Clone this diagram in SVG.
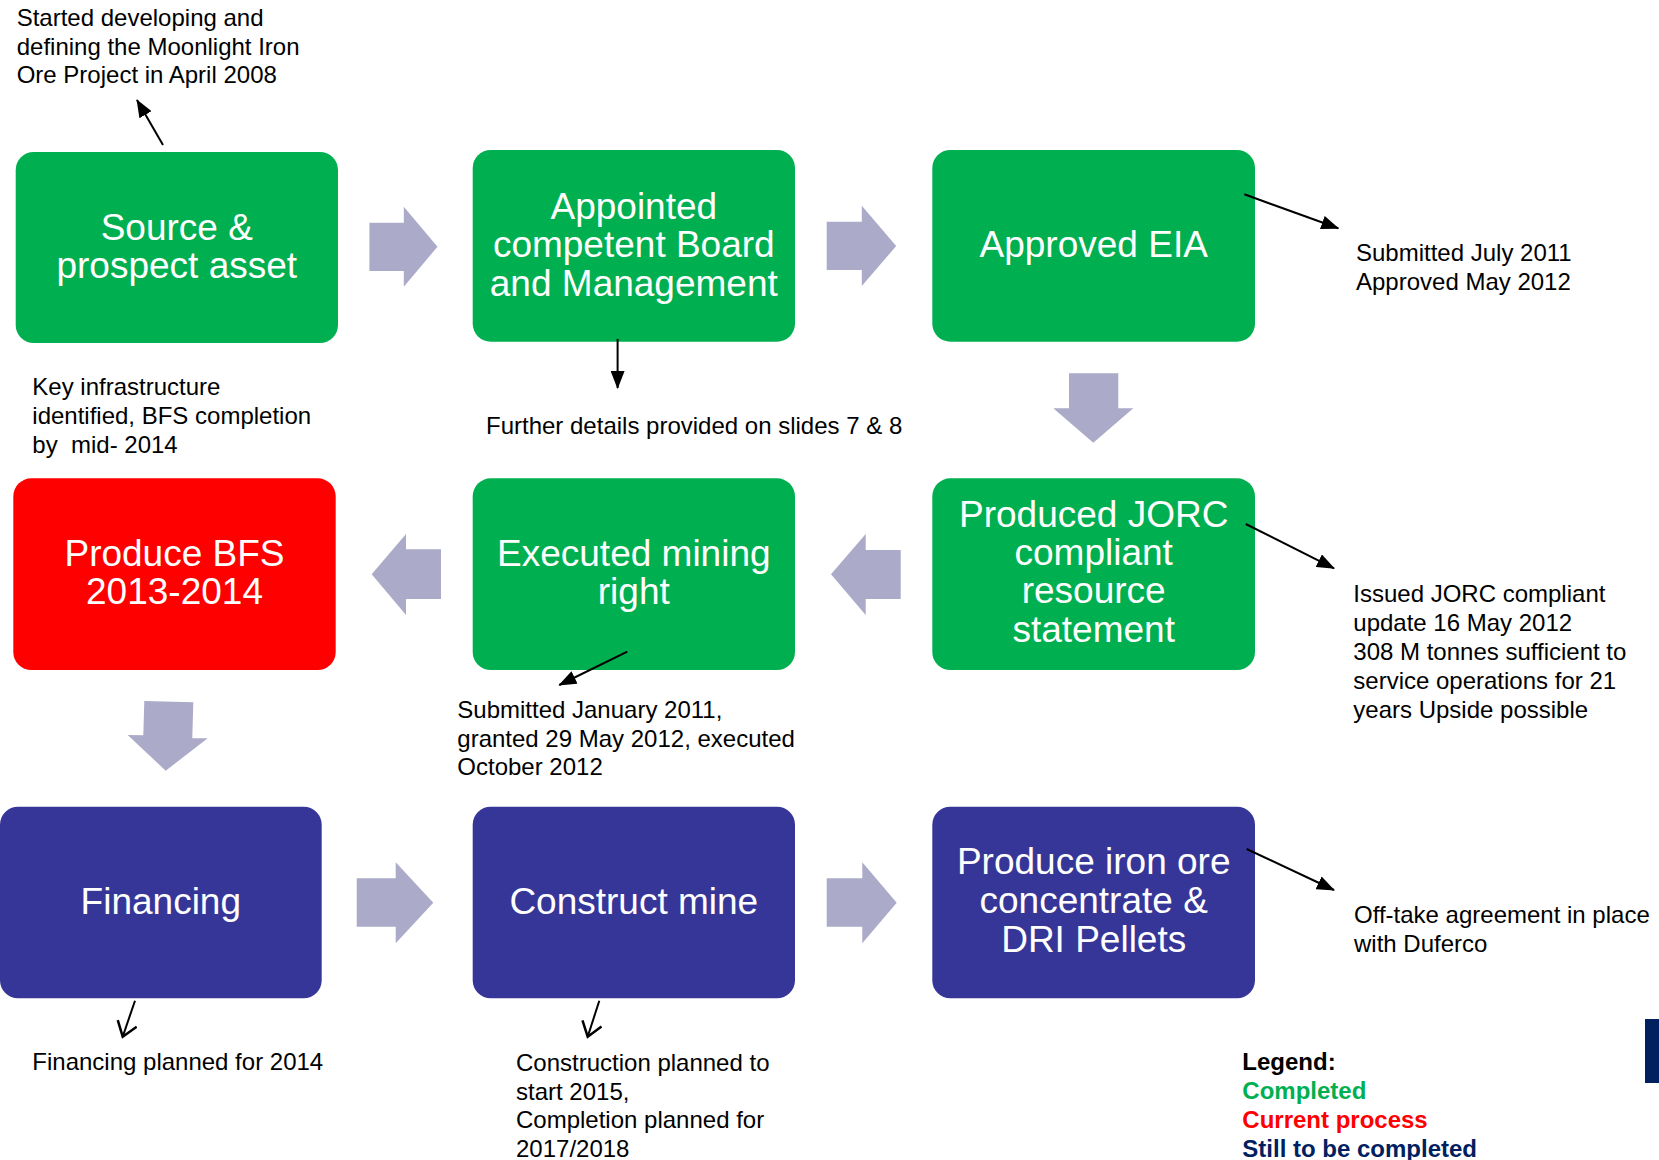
<svg xmlns="http://www.w3.org/2000/svg" width="1659" height="1160" viewBox="0 0 1659 1160">
<style>
.box{stroke:none}
.g{fill:#00B050}
.r{fill:#FF0000}
.b{fill:#363698}
.nt{font-family:"Liberation Sans",Arial,sans-serif;font-size:37px;fill:#FFFFFF;text-anchor:middle}
.an{font-family:"Liberation Sans",Arial,sans-serif;font-size:24px;fill:#000000;white-space:pre}
.lg{font-family:"Liberation Sans",Arial,sans-serif;font-size:24px;font-weight:bold}
.blk{fill:#ABABC9;stroke:none}
.ln{stroke:#000;stroke-width:2;fill:none}
</style>
<defs>
<marker id="tri" markerUnits="userSpaceOnUse" markerWidth="18" markerHeight="14" refX="17" refY="7" orient="auto">
<path d="M0,0 L18,7 L0,14 z" fill="#000"/>
</marker>
<marker id="vee" markerUnits="userSpaceOnUse" markerWidth="18" markerHeight="24" refX="15" refY="11" orient="auto">
<path d="M1,1 L15,11 L1,21" fill="none" stroke="#000" stroke-width="2.5"/>
</marker>
</defs>
<rect width="1659" height="1160" fill="#FFFFFF"/>

<g id="n1"><rect class="box g" x="15.7" y="152" width="322.3" height="191" rx="18"/>
<text class="nt" x="176.8" y="240">Source &amp;</text>
<text class="nt" x="176.8" y="278">prospect asset</text></g>

<g id="n2"><rect class="box g" x="472.7" y="150" width="322.3" height="191.7" rx="18"/>
<text class="nt" x="633.8" y="219">Appointed</text>
<text class="nt" x="633.8" y="257">competent Board</text>
<text class="nt" x="633.8" y="295.7">and Management</text></g>

<g id="n3"><rect class="box g" x="932.3" y="150" width="322.7" height="191.7" rx="18"/>
<text class="nt" x="1093.7" y="256.7">Approved EIA</text></g>

<g id="n4"><rect class="box g" x="932.3" y="478.3" width="322.7" height="191.7" rx="18"/>
<text class="nt" x="1093.7" y="526.7">Produced JORC</text>
<text class="nt" x="1093.7" y="565">compliant</text>
<text class="nt" x="1093.7" y="603.3">resource</text>
<text class="nt" x="1093.7" y="642.3">statement</text></g>

<g id="n5"><rect class="box g" x="472.7" y="478.3" width="322.3" height="191.7" rx="18"/>
<text class="nt" x="633.8" y="565.7">Executed mining</text>
<text class="nt" x="633.8" y="604">right</text></g>

<g id="n6"><rect class="box r" x="13.3" y="478.3" width="322.4" height="191.7" rx="18"/>
<text class="nt" x="174.5" y="566">Produce BFS</text>
<text class="nt" x="174.5" y="604.3">2013-2014</text></g>

<g id="n7"><rect class="box b" x="0" y="806.7" width="321.7" height="191.6" rx="18"/>
<text class="nt" x="160.8" y="914">Financing</text></g>

<g id="n8"><rect class="box b" x="472.7" y="806.7" width="322.3" height="191.6" rx="18"/>
<text class="nt" x="633.8" y="914">Construct mine</text></g>

<g id="n9"><rect class="box b" x="932.3" y="806.7" width="322.7" height="191.6" rx="18"/>
<text class="nt" x="1093.7" y="874">Produce iron ore</text>
<text class="nt" x="1093.7" y="912.7">concentrate &amp;</text>
<text class="nt" x="1093.7" y="952.3">DRI Pellets</text></g>

<g id="connectors">
<polygon class="blk" points="369.4,222.7 403.8,222.7 403.8,206.7 437.5,246.7 403.8,286.7 403.8,271 369.4,271"/>
<polygon class="blk" points="826.7,221.7 861.8,221.7 861.8,205.7 896.2,246 861.8,286 861.8,270 826.7,270"/>
<polygon class="blk" points="1069,373.3 1118.3,373.3 1118.3,408.3 1133.3,408.3 1093.3,442.7 1053.3,408.3 1069,408.3"/>
<polygon class="blk" points="900.7,550 865.7,550 865.7,534 831,574.3 865.7,615 865.7,599 900.7,599"/>
<polygon class="blk" points="441,549.3 406,549.3 406,534 371.7,574.3 406,615 406,599 441,599"/>
<polygon class="blk" points="144.3,701 193.3,702.3 192.3,738.3 207.7,738.3 165.7,770.7 127.7,735 143.3,735.3"/>
<polygon class="blk" points="356.7,878.3 395.7,878.3 395.7,862.3 433.3,902.7 395.7,943.3 395.7,926.7 356.7,926.7"/>
<polygon class="blk" points="826.7,878.3 862.3,878.3 862.3,862.3 896.7,902.7 862.3,943.3 862.3,926.7 826.7,926.7"/>

<line class="ln" x1="163" y1="145" x2="137" y2="100" marker-end="url(#tri)"/>
<line class="ln" x1="617.6" y1="339" x2="617.6" y2="388" marker-end="url(#tri)"/>
<line class="ln" x1="1244.3" y1="194.3" x2="1338.3" y2="228.3" marker-end="url(#tri)"/>
<line class="ln" x1="1245.7" y1="524" x2="1334" y2="568.3" marker-end="url(#tri)"/>
<line class="ln" x1="627.3" y1="651.7" x2="559.3" y2="685" marker-end="url(#tri)"/>
<line class="ln" x1="1246.7" y1="849" x2="1334" y2="890" stroke-width="3" marker-end="url(#tri)"/>
<line class="ln" x1="135" y1="1000.7" x2="122.7" y2="1036.7" stroke-width="2.5" marker-end="url(#vee)"/>
<line class="ln" x1="599.3" y1="1000.7" x2="587.7" y2="1036.7" stroke-width="2.5" marker-end="url(#vee)"/>
</g>

<g id="annotations">
<text class="an" x="16.7" y="26">Started developing and</text>
<text class="an" x="16.7" y="55">defining the Moonlight Iron</text>
<text class="an" x="16.7" y="83.3">Ore Project in April 2008</text>

<text class="an" x="32.3" y="395">Key infrastructure</text>
<text class="an" x="32.3" y="424">identified, BFS completion</text>
<text class="an" x="32.3" y="453">by  mid- 2014</text>

<text class="an" x="486" y="434">Further details provided on slides 7 &amp; 8</text>

<text class="an" x="1356" y="260.7">Submitted July 2011</text>
<text class="an" x="1356" y="290">Approved May 2012</text>

<text class="an" x="457.3" y="717.7">Submitted January 2011,</text>
<text class="an" x="457.3" y="746.7">granted 29 May 2012, executed</text>
<text class="an" x="457.3" y="775">October 2012</text>

<text class="an" x="1353.3" y="602">Issued JORC compliant</text>
<text class="an" x="1353.3" y="631">update 16 May 2012</text>
<text class="an" x="1353.3" y="660">308 M tonnes sufficient to</text>
<text class="an" x="1353.3" y="689">service operations for 21</text>
<text class="an" x="1353.3" y="718">years Upside possible</text>

<text class="an" x="32.3" y="1070">Financing planned for 2014</text>

<text class="an" x="516" y="1071">Construction planned to</text>
<text class="an" x="516" y="1099.5">start 2015,</text>
<text class="an" x="516" y="1128">Completion planned for</text>
<text class="an" x="516" y="1156.5">2017/2018</text>

<text class="an" x="1354" y="922.7">Off-take agreement in place</text>
<text class="an" x="1354" y="951.7">with Duferco</text>
</g>

<g id="legend">
<text class="lg" x="1242.3" y="1070" fill="#000000">Legend:</text>
<text class="lg" x="1242.3" y="1099" fill="#00B050">Completed</text>
<text class="lg" x="1242.3" y="1128.3" fill="#FF0000">Current process</text>
<text class="lg" x="1242.3" y="1156.7" fill="#002060">Still to be completed</text>
</g>
<rect x="1645" y="1019" width="14" height="64" fill="#002060"/>
</svg>
